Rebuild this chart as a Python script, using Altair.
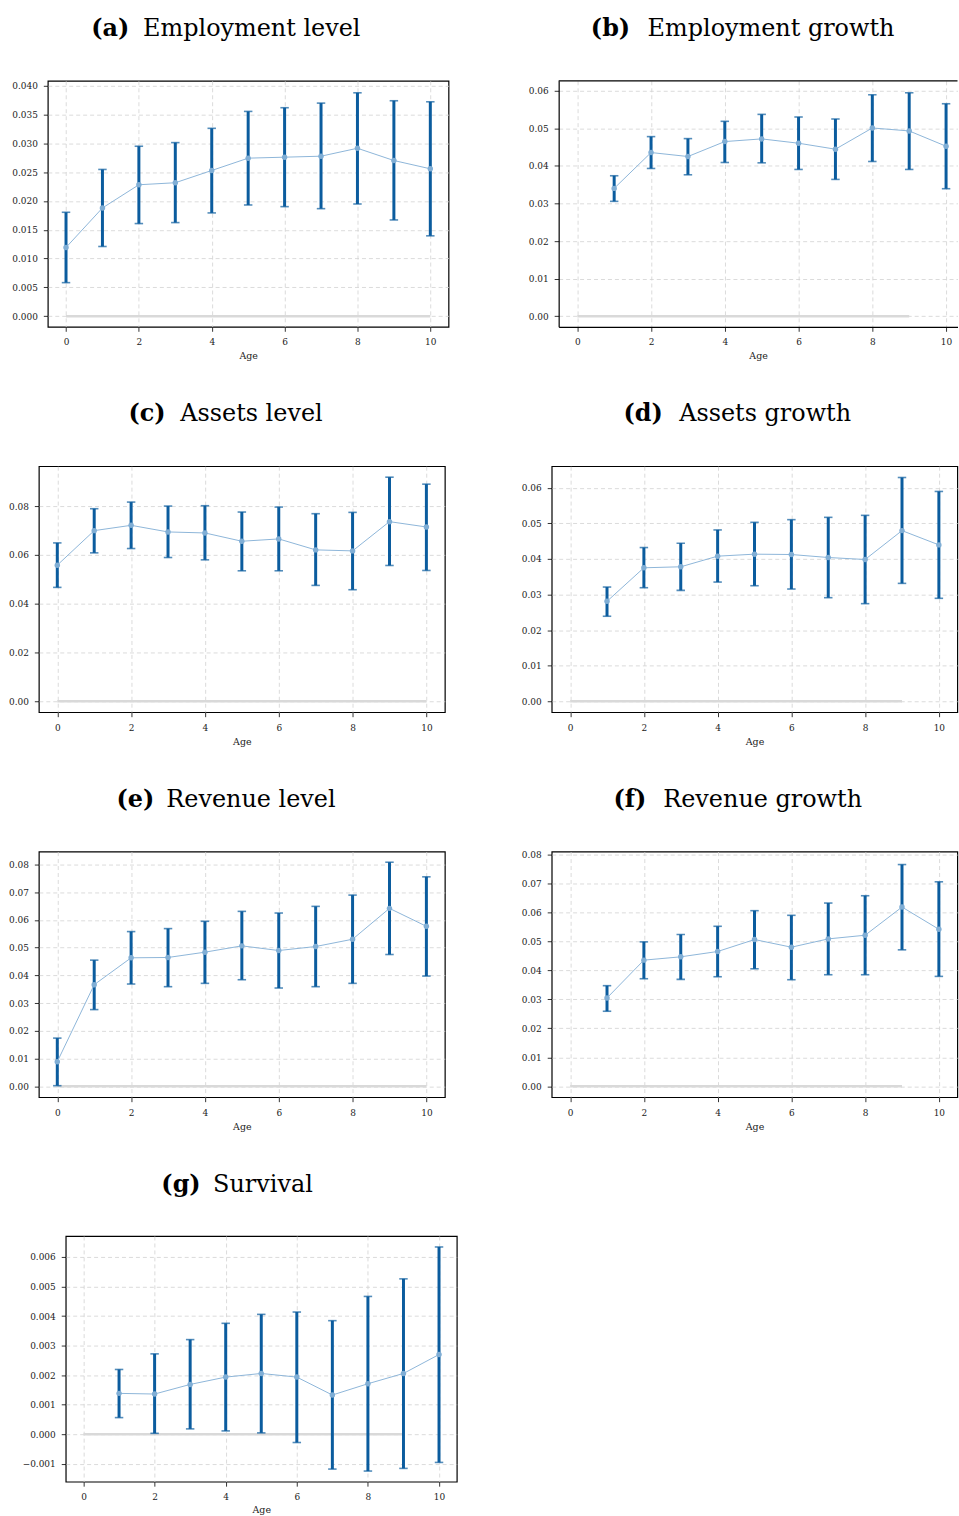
import altair as alt
import pandas as pd

# ---------------- data ----------------
AGES_ALL = [0, 1, 2, 3, 4, 5, 6, 7, 8, 9, 10]
AGES_GROWTH = [1, 2, 3, 4, 5, 6, 7, 8, 9, 10]

emp_level_mean = [0.01193, 0.01879, 0.02282, 0.02317, 0.0253, 0.02744, 0.02761, 0.02778, 0.02916, 0.02703, 0.02559]
emp_level_hi = [0.01804, 0.02548, 0.02951, 0.03014, 0.03262, 0.03556, 0.0362, 0.037, 0.03879, 0.03741, 0.03723]
emp_level_lo = [0.00582, 0.0121, 0.01608, 0.01625, 0.01793, 0.01931, 0.01902, 0.01867, 0.01948, 0.01671, 0.01395]

emp_growth_mean = [0.03402, 0.04356, 0.0425, 0.04648, 0.04719, 0.04604, 0.04445, 0.0501, 0.04931, 0.04524]
emp_growth_hi = [0.03738, 0.0478, 0.04727, 0.05187, 0.05372, 0.05302, 0.05249, 0.05894, 0.05947, 0.05655]
emp_growth_lo = [0.03057, 0.03932, 0.03764, 0.04091, 0.04082, 0.03906, 0.03641, 0.04118, 0.03906, 0.03393]

assets_level_mean = [0.05578, 0.06993, 0.07211, 0.06939, 0.06898, 0.06558, 0.06653, 0.06204, 0.06163, 0.07361, 0.07143]
assets_level_hi = [0.0649, 0.07891, 0.08163, 0.08, 0.08014, 0.07755, 0.07959, 0.07687, 0.07741, 0.09184, 0.08898]
assets_level_lo = [0.04667, 0.06082, 0.06259, 0.05891, 0.05796, 0.05347, 0.05347, 0.04748, 0.04571, 0.05565, 0.0536]

assets_growth_mean = [0.02809, 0.03751, 0.03779, 0.04078, 0.04134, 0.04124, 0.0404, 0.03984, 0.04796, 0.04395]
assets_growth_hi = [0.0321, 0.0432, 0.04442, 0.04815, 0.05029, 0.05104, 0.05169, 0.05225, 0.06289, 0.05897]
assets_growth_lo = [0.02389, 0.03191, 0.03117, 0.0335, 0.03247, 0.03154, 0.02911, 0.02743, 0.03313, 0.02893]

rev_level_mean = [0.00886, 0.03665, 0.04635, 0.04647, 0.04838, 0.05066, 0.04898, 0.05042, 0.05305, 0.06419, 0.05772]
rev_level_hi = [0.01737, 0.04551, 0.05581, 0.05689, 0.05952, 0.06311, 0.06251, 0.06491, 0.06898, 0.08084, 0.07557]
rev_level_lo = [0.0002, 0.02766, 0.03689, 0.03593, 0.03713, 0.03844, 0.03545, 0.03593, 0.03713, 0.04754, 0.03976]

rev_growth_mean = [0.03049, 0.04355, 0.0447, 0.04653, 0.05066, 0.04802, 0.05089, 0.05215, 0.06189, 0.05421]
rev_growth_hi = [0.03473, 0.04986, 0.05238, 0.05524, 0.06063, 0.05903, 0.06327, 0.06579, 0.07656, 0.0706]
rev_growth_lo = [0.0259, 0.03713, 0.03691, 0.03782, 0.04057, 0.03679, 0.03851, 0.03851, 0.04711, 0.03794]

survival_mean = [0.001382, 0.00136, 0.001685, 0.001933, 0.002056, 0.001933, 0.001326, 0.001708, 0.002056, 0.002697]
survival_hi = [0.002191, 0.002719, 0.003202, 0.003753, 0.004056, 0.004135, 0.003843, 0.004663, 0.005258, 0.006337]
survival_lo = [0.000562, 0.00003, 0.00018, 0.000112, 0.000045, -0.000281, -0.00118, -0.001247, -0.001157, -0.000955]

X_TICKS = [0, 2, 4, 6, 8, 10]
TICKS_A = [0.0, 0.005, 0.01, 0.015, 0.02, 0.025, 0.03, 0.035, 0.04]
TICKS_B = [0.0, 0.01, 0.02, 0.03, 0.04, 0.05, 0.06]
TICKS_C = [0.0, 0.02, 0.04, 0.06, 0.08]
TICKS_D = [0.0, 0.01, 0.02, 0.03, 0.04, 0.05, 0.06]
TICKS_E = [0.0, 0.01, 0.02, 0.03, 0.04, 0.05, 0.06, 0.07, 0.08]
TICKS_F = [0.0, 0.01, 0.02, 0.03, 0.04, 0.05, 0.06, 0.07, 0.08]
TICKS_G = [-0.001, 0.0, 0.001, 0.002, 0.003, 0.004, 0.005, 0.006]

# ---------------- styling ----------------
DARK = "#0b5c9e"
LIGHT = "#80aed5"
LINE = "#8db5d9"
ZERO = "#d9d9d9"
FONT = "DejaVu Serif"
TITLE_SIZE = 24

panels = [
    dict(lab="(a)", name="Employment level", ages=AGES_ALL, mean=emp_level_mean, lo=emp_level_lo, hi=emp_level_hi,
         yticks=TICKS_A, fmt=".3f", ydom=[-0.00185, 0.04087], xdom=[-0.5, 10.5], zero_end=10,
         w=402.4, h=247, E=38, T=77.7, B=40, tx=(43.7, 95.7), ty=-45, ty_age=32, open_right=False),
    dict(lab="(b)", name="Employment growth", ages=AGES_GROWTH, mean=emp_growth_mean, lo=emp_growth_lo, hi=emp_growth_hi,
         yticks=TICKS_B, fmt=".2f", ydom=[-0.00283, 0.06265], xdom=[-0.505, 10.31], zero_end=9,
         w=400.5, h=247, E=103, T=77.7, B=40, tx=(32.3, 89.3), ty=-45, ty_age=32, open_right=True),
    dict(lab="(c)", name="Assets level", ages=AGES_ALL, mean=assets_level_mean, lo=assets_level_lo, hi=assets_level_hi,
         yticks=TICKS_C, fmt=".2f", ydom=[-0.00449, 0.09633], xdom=[-0.5, 10.5], zero_end=10,
         w=407.7, h=247, E=31, T=75, B=40, tx=(90, 142), ty=-45, ty_age=32, open_right=False),
    dict(lab="(d)", name="Assets growth", ages=AGES_GROWTH, mean=assets_growth_mean, lo=assets_growth_lo, hi=assets_growth_hi,
         yticks=TICKS_D, fmt=".2f", ydom=[-0.00308, 0.06606], xdom=[-0.5, 10.5], zero_end=9,
         w=407.3, h=247, E=101, T=75, B=40, tx=(72, 128), ty=-45, ty_age=32, open_right=False),
    dict(lab="(e)", name="Revenue level", ages=AGES_ALL, mean=rev_level_mean, lo=rev_level_lo, hi=rev_level_hi,
         yticks=TICKS_E, fmt=".2f", ydom=[-0.00395, 0.08467], xdom=[-0.5, 10.5], zero_end=10,
         w=407.7, h=246.6, E=31, T=75, B=40, tx=(78, 128), ty=-45, ty_age=32, open_right=False),
    dict(lab="(f)", name="Revenue growth", ages=AGES_GROWTH, mean=rev_growth_mean, lo=rev_growth_lo, hi=rev_growth_hi,
         yticks=TICKS_F, fmt=".2f", ydom=[-0.00378, 0.08103], xdom=[-0.5, 10.5], zero_end=9,
         w=407.3, h=246.6, E=101, T=75, B=40, tx=(62, 112), ty=-45, ty_age=32, open_right=False),
    dict(lab="(g)", name="Survival", ages=AGES_GROWTH, mean=survival_mean, lo=survival_lo, hi=survival_hi,
         yticks=TICKS_G, fmt=".3f", ydom=[-0.001607, 0.006708], xdom=[-0.5, 10.5], zero_end=9,
         w=392.7, h=246.7, E=44, T=75, B=34, tx=(96, 148), ty=-44.6, ty_age=31, open_right=False),
]


def make_panel(p):
    df = pd.DataFrame({"Age": p["ages"], "mean": p["mean"], "lo": p["lo"], "hi": p["hi"]})
    xs = alt.Scale(domain=p["xdom"], nice=False, zero=False)
    ys = alt.Scale(domain=p["ydom"], nice=False, zero=False)
    dom = dict(domain=True, domainColor="black", domainWidth=1.2) if p["open_right"] else {}
    xaxis = alt.Axis(values=X_TICKS, format="d", title="Age", titleY=p["ty_age"],
                     titleBaseline="alphabetic", labelFlush=False, labelOverlap=False, **dom)
    yaxis = alt.Axis(values=p["yticks"], format=p["fmt"], title=None, labelOverlap=False, **dom)

    def X(f):
        return alt.X(f, type="quantitative", scale=xs, axis=xaxis)

    def Y(f):
        return alt.Y(f, type="quantitative", scale=ys, axis=yaxis)

    zdf = pd.DataFrame({"x0": [0], "x1": [p["zero_end"]], "y0": [0.0]})
    zero = alt.Chart(zdf).mark_rule(color=ZERO, strokeWidth=2.5).encode(x=X("x0"), x2="x1", y=Y("y0"))
    base = alt.Chart(df)
    bars = base.mark_rule(color=DARK, strokeWidth=3).encode(x=X("Age"), y=Y("lo"), y2="hi")
    cap_hi = base.mark_tick(color=DARK, orient="horizontal", size=8.5, thickness=1.6).encode(x=X("Age"), y=Y("hi"))
    cap_lo = base.mark_tick(color=DARK, orient="horizontal", size=8.5, thickness=1.6).encode(x=X("Age"), y=Y("lo"))
    line = base.mark_line(color=LINE, strokeWidth=1).encode(x=X("Age"), y=Y("mean"))
    pts = base.mark_circle(color=LIGHT, size=30, opacity=1).encode(x=X("Age"), y=Y("mean"))

    t1 = alt.Chart(pd.DataFrame({"t": [p["lab"]]})).mark_text(
        font=FONT, fontSize=TITLE_SIZE, fontWeight="bold", align="left", baseline="alphabetic", color="black"
    ).encode(text="t:N", x=alt.value(p["tx"][0]), y=alt.value(p["ty"]))
    t2 = alt.Chart(pd.DataFrame({"t": [p["name"]]})).mark_text(
        font=FONT, fontSize=TITLE_SIZE, fontWeight="normal", align="left", baseline="alphabetic", color="black"
    ).encode(text="t:N", x=alt.value(p["tx"][1]), y=alt.value(p["ty"]))

    # invisible rule fixing the panel's outer bounds (left extent, top and bottom)
    spacer = alt.Chart(pd.DataFrame({"s": [0]})).mark_rule(strokeOpacity=0, strokeWidth=1).encode(
        x=alt.value(-p["E"] + 0.5), y=alt.value(-p["T"] + 0.5), y2=alt.value(p["h"] + p["B"] - 0.5))

    layers = [zero, bars, cap_hi, cap_lo, line, pts, t1, t2, spacer]
    kw = {}
    if p["open_right"]:
        top = alt.Chart(pd.DataFrame({"s": [0]})).mark_rule(color="black", strokeWidth=1.2).encode(
            x=alt.value(0), x2=alt.value(p["w"]), y=alt.value(0))
        layers.append(top)
        kw["view"] = alt.ViewBackground(stroke="transparent")
    return alt.layer(*layers, **kw).properties(width=p["w"], height=p["h"])


def lead():
    # tiny invisible cell that lets each row start at its own horizontal offset
    r = alt.Chart(pd.DataFrame({"s": [0]})).mark_rule(strokeOpacity=0, strokeWidth=1).encode(
        x=alt.value(0), y=alt.value(0), y2=alt.value(0.5))
    return alt.layer(r, view=alt.ViewBackground(stroke="transparent")).properties(width=0.5, height=0.5)


ch = [make_panel(p) for p in panels]
row1 = alt.hconcat(lead(), ch[0], ch[1], spacing=6)
row2 = alt.hconcat(lead(), ch[2], ch[3], spacing=4)
row3 = alt.hconcat(lead(), ch[4], ch[5], spacing=4)
row4 = alt.hconcat(lead(), ch[6], spacing=18)

chart = alt.vconcat(row1, row2, row3, row4, spacing=23).properties(padding=0).configure_axis(
    domain=False, grid=True, gridDash=[4, 3], gridColor="#d2d2d2", gridWidth=0.8,
    tickColor="black", tickSize=4.5, tickWidth=0.8,
    labelFont=FONT, labelFontSize=9, labelColor="#222222",
    titleFont=FONT, titleFontSize=9.5, titleFontWeight="normal", titleColor="#222222",
).configure_axisX(labelPadding=6.5).configure_axisY(labelPadding=6).configure_view(
    stroke="black", strokeWidth=1.2
)

chart.save("out.html", embed_options={"renderer": "svg", "actions": False})
